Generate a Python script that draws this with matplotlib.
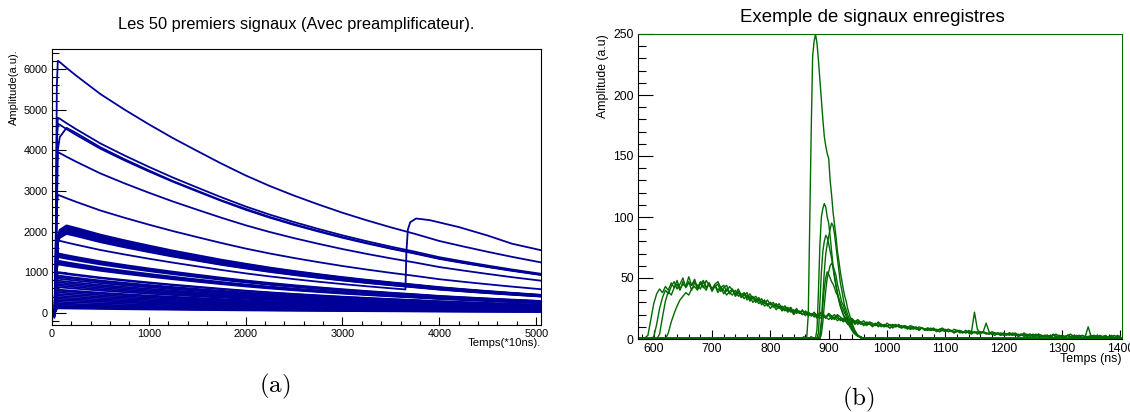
import numpy as np
import matplotlib
matplotlib.use('Agg')
import matplotlib.pyplot as plt
from matplotlib.ticker import MultipleLocator

plt.rcParams['font.family'] = ['Liberation Sans', 'DejaVu Sans']
plt.rcParams['mathtext.fontset'] = 'cm'

# ---------------- (a) 50 preamp signals ----------------
# sample times (x10 ns) and pulse shapes (normalised to peak)
t_pre = [0, 25, 40, 50, 60, 80, 150, 250, 500, 750, 1000, 1250, 1500, 1750, 2000, 2250,
         2500, 2750, 3000, 3250, 3500, 3750, 4000, 4250, 4500, 4750, 5050]
shape_fast = [0, -0.02, 0.35, 0.9, 1.0, 0.995, 0.972, 0.941, 0.868, 0.806, 0.748, 0.693, 0.642,
              0.592, 0.545, 0.503, 0.465, 0.43, 0.397, 0.367, 0.339, 0.313, 0.285, 0.263,
              0.242, 0.222, 0.2]
shape_slow = [0, -0.02, 0.08, 0.5, 0.88, 0.95, 1.0, 0.972, 0.895, 0.83, 0.77, 0.712, 0.66,
              0.608, 0.562, 0.518, 0.479, 0.443, 0.409, 0.378, 0.349, 0.322, 0.294, 0.271,
              0.249, 0.229, 0.206]

# peak amplitude of each signal, and which rise shape it has
amp = [6200, 4800, 4650, 4550, 3950, 2900,
       2150, 2120, 2100, 2080, 2060, 2040, 2010, 1990, 1960, 1940,
       1460, 1430, 1400, 1370, 1280, 1250, 1220, 1190,
       1000, 980, 915, 880, 840, 790, 750, 710, 670, 630, 570, 540, 500,
       460, 420, 380, 345, 310, 270, 230, 200, 170, 150, 130, 110]
kind = ['f', 'f', 'f', 's', 'f', 'f'] + ['s'] * 10 + ['f'] * 33

# the signal with a pile-up pulse near t = 3650
pile_t = [0, 25, 40, 50, 60, 80, 150, 250, 500, 750, 1000, 1250, 1500, 1750, 2000, 2250,
          2500, 2750, 3000, 3250, 3500, 3650, 3660, 3675, 3700, 3760, 3900, 4200, 4500,
          4750, 5050]
pile_v = [0, -35, 620, 1600, 1780, 1771, 1730, 1675, 1545, 1435, 1331, 1234, 1143, 1054,
          970, 895, 828, 765, 707, 653, 603, 575, 1500, 2050, 2230, 2320, 2280, 2110, 1900,
          1700, 1540]

# ---------------- (b) recorded signals ----------------
t_slow = np.arange(575, 1401, 5)
slow_a = [1, 0, 1, 3, 16, 29, 37, 41, 38, 43,
          40, 46, 42, 48, 41, 45, 43, 47, 40, 46,
          44, 41, 47, 42, 45, 39, 44, 40, 43, 37,
          41, 38, 36, 40, 35, 37, 33, 36, 31, 34,
          30, 33, 28, 31, 27, 30, 26, 28, 25, 27,
          23, 26, 22, 24, 21, 23, 20, 22, 19, 21,
          18, 20, 17, 19, 18, 20, 16, 18, 15, 17,
          14, 16, 13, 15, 12, 14, 12, 13, 11, 13,
          10, 12, 11, 12, 10, 11, 9, 11, 10, 11,
          9, 10, 8, 10, 8, 9, 8, 9, 7, 8,
          7, 8, 7, 6, 8, 7, 6, 7, 6, 7,
          5, 6, 5, 6, 5, 6, 4, 6, 5, 5,
          4, 5, 4, 5, 3, 5, 4, 3, 5, 4,
          3, 4, 3, 4, 2, 4, 3, 2, 3, 2,
          3, 2, 3, 4, 2, 3, 2, 3, 4, 2,
          3, 2, 3, 1, 2, 3, 2, 1, 3, 2,
          1, 2, 3, 1, 2, 2]
slow_b = [0, 1, 0, 1, 0, 2, 12, 25, 34, 40,
          37, 43, 47, 41, 45, 50, 42, 46, 44, 49,
          42, 47, 43, 40, 46, 41, 44, 38, 42, 40,
          36, 39, 41, 35, 38, 34, 37, 32, 35, 30,
          33, 29, 31, 27, 29, 25, 28, 24, 27, 23,
          25, 22, 24, 20, 23, 21, 24, 19, 22, 20,
          21, 18, 22, 19, 17, 20, 18, 16, 19, 15,
          17, 14, 16, 13, 15, 12, 14, 11, 13, 12,
          11, 13, 10, 12, 11, 10, 12, 9, 11, 10,
          11, 9, 10, 8, 9, 10, 8, 9, 8, 7,
          9, 7, 8, 6, 7, 8, 6, 7, 5, 6,
          6, 5, 7, 5, 4, 6, 5, 4, 6, 4,
          5, 4, 3, 5, 4, 3, 4, 5, 3, 4,
          2, 3, 4, 2, 3, 2, 4, 3, 2, 3,
          2, 3, 1, 2, 3, 2, 1, 3, 2, 1,
          2, 3, 1, 2, 2, 1, 3, 2, 1, 2,
          2, 1, 2, 3, 1, 2]
slow_c = [1, 0, 1, 0, 1, 1, 0, 4, 18, 31,
          39, 36, 42, 45, 40, 47, 43, 51, 44, 47,
          41, 45, 48, 42, 46, 40, 43, 45, 39, 42,
          44, 37, 40, 36, 39, 34, 36, 38, 32, 35,
          31, 34, 30, 32, 28, 30, 27, 29, 26, 24,
          27, 23, 25, 21, 24, 22, 20, 23, 21, 19,
          22, 19, 21, 20, 18, 21, 19, 17, 20, 18,
          16, 18, 15, 17, 14, 16, 13, 15, 12, 14,
          13, 11, 14, 12, 10, 13, 11, 12, 10, 12,
          10, 11, 9, 11, 10, 8, 10, 9, 8, 9,
          8, 9, 7, 8, 9, 7, 8, 6, 8, 7,
          7, 6, 5, 7, 6, 5, 6, 5, 6, 5,
          4, 6, 5, 4, 5, 4, 3, 5, 4, 3,
          4, 3, 5, 3, 4, 2, 3, 4, 2, 3,
          3, 2, 4, 2, 3, 1, 2, 3, 2, 3,
          1, 2, 3, 2, 1, 2, 3, 1, 2, 2,
          3, 1, 2, 1, 3, 2]
slow_d = [0, 1, 0, 1, 0, 1, 0, 1, 1, 0,
          5, 14, 21, 27, 32, 35, 38, 36, 41, 43,
          40, 46, 42, 48, 44, 41, 45, 47, 42, 44,
          39, 43, 40, 37, 41, 36, 38, 34, 37, 33,
          35, 31, 33, 29, 32, 28, 30, 26, 29, 25,
          27, 24, 26, 22, 25, 21, 23, 20, 22, 19,
          20, 17, 19, 21, 18, 16, 18, 20, 17, 16,
          15, 17, 14, 16, 13, 15, 14, 12, 14, 13,
          12, 11, 13, 10, 12, 11, 9, 11, 12, 10,
          9, 11, 10, 8, 10, 9, 7, 9, 8, 9,
          7, 8, 6, 8, 7, 6, 8, 7, 5, 7,
          6, 5, 7, 5, 6, 22, 8, 5, 6, 13,
          6, 4, 5, 4, 3, 5, 4, 4, 3, 5,
          3, 4, 2, 3, 4, 3, 2, 4, 3, 2,
          3, 2, 3, 2, 1, 3, 2, 3, 1, 2,
          2, 3, 1, 2, 10, 2, 1, 3, 2, 1,
          2, 1, 2, 1, 2, 1]

t_fast = np.arange(850, 1000.1, 2.5)
pulse_1 = [1, 0, 1, 0, 1, 2, 20, 95, 170, 232,
           244, 250, 242, 228, 212, 196, 180, 166, 158, 152,
           148, 130, 118, 104, 94, 84, 72, 64, 55, 48,
           41, 35, 31, 25, 21, 17, 13, 10, 7, 5,
           3, 2, 1, 1, 0, 1, 0, 1, 0, 1,
           0, 1, 0, 0, 1, 0, 1, 0, 0, 1, 0]
pulse_2 = [1, 0, 1, 2, 0, 1, 0, 1, 2, 1,
           0, 1, 8, 40, 78, 100, 107, 111, 108, 100,
           95, 84, 72, 60, 52, 45, 38, 33, 27, 23,
           20, 17, 14, 12, 13, 10, 8, 6, 5, 4,
           3, 2, 2, 1, 1, 0, 1, 0, 1, 0,
           1, 0, 0, 1, 0, 1, 0, 0, 1, 0, 1]
pulse_3 = [0, 1, 0, 1, 1, 0, 1, 0, 1, 0,
           1, 0, 1, 0, 3, 15, 35, 55, 70, 78,
           84, 90, 95, 93, 86, 76, 66, 56, 46, 40,
           33, 27, 24, 20, 17, 14, 11, 8, 6, 4,
           3, 2, 1, 1, 0, 1, 0, 0, 1, 0,
           0, 1, 0, 1, 0, 0, 1, 0, 1, 0, 0]
pulse_4 = [1, 0, 0, 1, 0, 1, 1, 0, 1, 0,
           1, 1, 0, 5, 30, 55, 72, 80, 85, 83,
           78, 72, 66, 58, 50, 43, 37, 31, 27, 24,
           20, 18, 15, 13, 11, 9, 7, 5, 4, 3,
           2, 2, 1, 1, 0, 1, 0, 1, 0, 0,
           1, 0, 1, 0, 0, 1, 0, 1, 0, 0, 1]
pulse_5 = [0, 1, 0, 0, 1, 0, 1, 0, 0, 1,
           0, 1, 0, 1, 0, 4, 14, 28, 40, 50,
           55, 60, 62, 60, 56, 52, 45, 40, 35, 30,
           28, 24, 20, 17, 14, 12, 9, 7, 5, 4,
           3, 2, 2, 1, 1, 0, 1, 0, 1, 0,
           0, 1, 0, 0, 1, 0, 0, 1, 0, 0, 0]
pulse_6 = [1, 0, 1, 0, 0, 1, 0, 1, 1, 0,
           0, 1, 0, 1, 3, 12, 28, 42, 50, 55,
           53, 50, 47, 45, 42, 38, 36, 33, 30, 27,
           24, 21, 19, 16, 14, 11, 9, 7, 5, 4,
           3, 2, 1, 1, 0, 1, 0, 1, 0, 1,
           0, 0, 1, 0, 1, 0, 0, 1, 0, 0, 1]
edge_t = [575, 1403]
edge_v = [0.5, 0.5]

blue = '#000099'
green = '#006a00'

fig = plt.figure(figsize=(11.3, 4.12), dpi=100)
W, H = 1130, 412

# ---- left panel ----
axL = fig.add_axes([52 / W, 1 - 325 / H, 489 / W, 276 / H])
shapes = {'f': shape_fast, 's': shape_slow}
for a, k in zip(amp, kind):
    axL.plot(t_pre, a * np.array(shapes[k]), color=blue, lw=1.3)
axL.plot(pile_t, pile_v, color=blue, lw=1.3)

axL.set_xlim(0, 5050)
axL.set_ylim(-300, 6490)
axL.xaxis.set_major_locator(MultipleLocator(1000))
axL.xaxis.set_minor_locator(MultipleLocator(200))
axL.yaxis.set_major_locator(MultipleLocator(1000))
axL.yaxis.set_minor_locator(MultipleLocator(200))
axL.tick_params(which='both', direction='in', top=False, right=False, width=0.8)
axL.tick_params(axis='y', which='major', length=10, labelsize=7.8, pad=3)
axL.tick_params(axis='y', which='minor', length=5)
axL.tick_params(axis='x', which='major', length=6, labelsize=7.8, pad=3)
axL.tick_params(axis='x', which='minor', length=3)
for s in axL.spines.values():
    s.set_linewidth(0.8)

fig.text(296 / W, 1 - 25 / H, 'Les 50 premiers signaux (Avec preamplificateur).',
         ha='center', va='center', fontsize=11.8)
fig.text(14 / W, 1 - 49 / H, 'Amplitude(a.u).', rotation=90, ha='center', va='top', fontsize=8)
fig.text(541 / W, 1 - 343 / H, 'Temps(*10ns).', ha='right', va='center', fontsize=8.2)
fig.text(275 / W, 1 - 386 / H, r'$\mathrm{(a)}$', ha='center', va='center', fontsize=18)

# ---- right panel ----
axR = fig.add_axes([638 / W, 1 - 339 / H, 484 / W, 305 / H])
for v in [slow_a, slow_b, slow_c, slow_d]:
    axR.plot(t_slow, v, color=green, lw=1.0)
for p in [pulse_1, pulse_2, pulse_3, pulse_4, pulse_5, pulse_6]:
    axR.plot([edge_t[0]] + list(t_fast) + [edge_t[1]], [edge_v[0]] + p + [edge_v[1]],
             color=green, lw=1.0)

axR.set_xlim(573, 1403)
axR.set_ylim(0, 250)
axR.xaxis.set_major_locator(MultipleLocator(100))
axR.xaxis.set_minor_locator(MultipleLocator(20))
axR.yaxis.set_major_locator(MultipleLocator(50))
axR.yaxis.set_minor_locator(MultipleLocator(10))
axR.tick_params(which='both', direction='in', top=False, right=False, width=0.8)
axR.tick_params(axis='y', which='major', length=11, labelsize=8.8, pad=3)
axR.tick_params(axis='y', which='minor', length=5.5)
axR.tick_params(axis='x', which='major', length=6.5, labelsize=8.8, pad=3)
axR.tick_params(axis='x', which='minor', length=3.3)
for s in axR.spines.values():
    s.set_linewidth(0.8)
axR.spines['top'].set_color(green)
axR.spines['right'].set_color(green)

fig.text(872 / W, 1 - 17 / H, 'Exemple de signaux enregistres', ha='center', va='center', fontsize=13.4)
fig.text(603 / W, 1 - 34 / H, 'Amplitude (a.u)', rotation=90, ha='center', va='top', fontsize=8.8)
fig.text(1122 / W, 1 - 359 / H, 'Temps (ns)', ha='right', va='center', fontsize=8.9)
fig.text(858 / W, 1 - 399 / H, r'$\mathrm{(b)}$', ha='center', va='center', fontsize=18)

fig.savefig('out.png', dpi=100)
